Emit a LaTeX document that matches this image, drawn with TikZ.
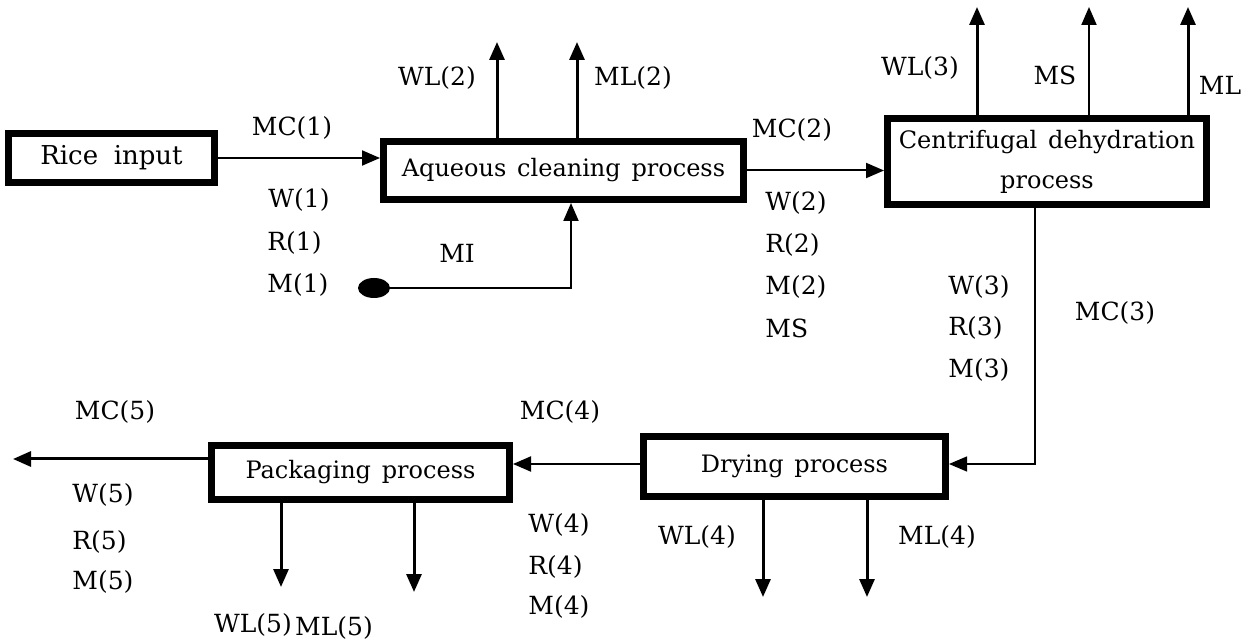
\documentclass[tikz,border=0pt]{standalone}
\usepackage{fontspec}
\setmainfont{DejaVu Serif}
\usetikzlibrary{arrows.meta,shapes.geometric}
\begin{document}
\begin{tikzpicture}[x=0.5pt,y=-0.5pt,
  lbl/.style={inner sep=0pt, font={\fontsize{12.5}{15}\selectfont}},
  proc/.style={draw, line width=3.5pt, inner sep=0pt, align=center,
    font={\fontsize{12}{20}\selectfont\spaceskip=0.45em\relax}},
  flow/.style={line width=1pt, -{Triangle[length=9pt,width=7.5pt]}},
  bflow/.style={line width=1.5pt, -{Triangle[length=9pt,width=7.5pt]}},
  tflow/.style={line width=0.6pt, -{Triangle[length=9pt,width=7.5pt]}},
]
\useasboundingbox (0,0) rectangle (1248,641);
\fill[white] (0,0) rectangle (1248,641);

% process boxes
\node (rice) [proc, minimum width=103pt, minimum height=24.5pt,
  font={\fontsize{13}{20}\selectfont\spaceskip=0.6em\relax}] at (111.5,158) {Rice input};
\node (aq) [proc, minimum width=180pt, minimum height=29pt] at (563.5,170.5) {Aqueous cleaning process};
\node (cd) [proc, minimum width=159.5pt, minimum height=43pt] at (1047,161.5) {Centrifugal dehydration\\process};
\node (dry) [proc, minimum width=151pt, minimum height=30pt] at (794.5,466.5) {Drying process};
\node (pack) [proc, minimum width=149pt, minimum height=27pt] at (360.5,472.5) {Packaging process};
\node (dot) [ellipse, fill, inner sep=0pt, minimum width=16pt, minimum height=10pt] at (374,288) {};

% free ends
\coordinate (wl2) at (497,42);
\coordinate (ml2) at (577,42);
\coordinate (mi) at (571,288);
\coordinate (wl3) at (977,7);
\coordinate (ms3) at (1089,7);
\coordinate (ml3) at (1188,7);
\coordinate (c3) at (1035,464);
\coordinate (wl4) at (763,597);
\coordinate (ml4) at (867,597);
\coordinate (wl5) at (281,587);
\coordinate (ml5) at (414,592);
\coordinate (out) at (13,459);

% connectors
\draw[flow] (rice.east) -- (rice.east -| aq.west);
\draw[flow] (aq.east) -- (aq.east -| cd.west);
\draw[bflow] (aq.north -| wl2) -- (wl2);
\draw[bflow] (aq.north -| ml2) -- (ml2);
\draw[flow] (dot.east) -- (mi) -- (aq.south -| mi);
\draw[bflow] (cd.north -| wl3) -- (wl3);
\draw[flow] (cd.north -| ms3) -- (ms3);
\draw[bflow] (cd.north -| ml3) -- (ml3);
\draw[tflow] (cd.south -| c3) -- (c3) -- (c3 -| dry.east);
\draw[flow] (dry.west |- c3) -- (c3 -| pack.east);
\draw[bflow] (dry.south -| wl4) -- (wl4);
\draw[bflow] (dry.south -| ml4) -- (ml4);
\draw[bflow] (pack.south -| wl5) -- (wl5);
\draw[bflow] (pack.south -| ml5) -- (ml5);
\draw[bflow] (pack.west |- out) -- (out);

% labels
\node (tmc1) [lbl] at (292,128) {MC(1)};
\node (tw1) [lbl, anchor=west] at (268,200) {W(1)};
\node (tr1) [lbl, anchor=west] at (267,243) {R(1)};
\node (tm1) [lbl, anchor=west] at (267,285) {M(1)};
\node (tmi) [lbl] at (457,253) {MI};
\node (twl2) [lbl] at (437,78) {WL(2)};
\node (tml2) [lbl] at (633,78) {ML(2)};
\node (tmc2) [lbl] at (792,130) {MC(2)};
\node (tw2) [lbl, anchor=west] at (765,203) {W(2)};
\node (tr2) [lbl, anchor=west] at (765,245) {R(2)};
\node (tm2) [lbl, anchor=west] at (765,287) {M(2)};
\node (tms2) [lbl, anchor=west] at (765,328) {MS};
\node (twl3) [lbl] at (920,68) {WL(3)};
\node (tms3) [lbl] at (1055,75) {MS};
\node (tml3) [lbl] at (1220,85) {ML};
\node (tw3) [lbl, anchor=west] at (948,287) {W(3)};
\node (tr3) [lbl, anchor=west] at (948,328) {R(3)};
\node (tm3) [lbl, anchor=west] at (948,370) {M(3)};
\node (tmc3) [lbl] at (1115,313) {MC(3)};
\node (tmc4) [lbl] at (560,412) {MC(4)};
\node (tw4) [lbl, anchor=west] at (528,525) {W(4)};
\node (tr4) [lbl, anchor=west] at (528,567) {R(4)};
\node (tm4) [lbl, anchor=west] at (528,607) {M(4)};
\node (twl4) [lbl] at (697,537) {WL(4)};
\node (tml4) [lbl] at (937,537) {ML(4)};
\node (tmc5) [lbl] at (115,412) {MC(5)};
\node (tw5) [lbl, anchor=west] at (72,495) {W(5)};
\node (tr5) [lbl, anchor=west] at (72,542) {R(5)};
\node (tm5) [lbl, anchor=west] at (72,582) {M(5)};
\node (twl5) [lbl] at (253,625) {WL(5)};
\node (tml5) [lbl] at (334,628) {ML(5)};
\end{tikzpicture}
\end{document}
